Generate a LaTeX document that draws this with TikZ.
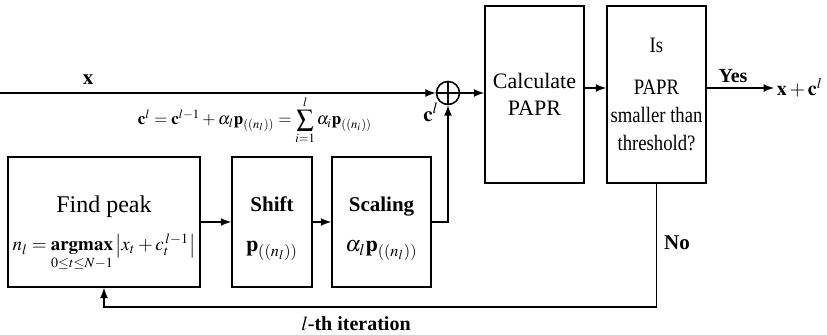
\documentclass[tikz,border=0pt]{standalone}
\usepackage{amsmath}
\usepackage{mathptmx}
\usepackage{fontspec}
\setmainfont{Liberation Serif}
\newfontfamily\narrowfont[FakeStretch=0.85]{Liberation Serif}
\usepackage{tikz}
\usetikzlibrary{arrows,positioning}

\begin{document}
\begin{tikzpicture}
			[x=0.5pt, y=-0.5pt, >=latex, thick,
			 block/.style={rectangle, draw, align=center, inner sep=0pt, font=\fontsize{11}{14}\selectfont},
			 adder/.style={circle, draw, minimum size=11.5pt, inner sep=0pt},
			 lbl/.style={font=\fontsize{10.5}{13}\selectfont\bfseries},]
			\useasboundingbox (0,0) rectangle (827,334);
			% blocks
			\node[block, minimum width=96pt, minimum height=65pt] (find) at (104,222)
				{\fontsize{12}{14}\selectfont\rule{0pt}{20pt}Find peak\\[5pt]
				 \fontsize{9.5}{12}\selectfont\boldmath $n_l = \mathop{\mathbf{argmax}}\limits_{0\le t\le N-1} \left| x_t + c_t^{\,l-1} \right|$};
			\node[block, minimum width=40pt, minimum height=65pt] (shift) at (272,222)
				{\fontsize{10.5}{14}\selectfont\rule{0pt}{14pt}\textbf{Shift}\\[6pt] $\mathbf{p}_{((n_l))}$};
			\node[block, minimum width=49.5pt, minimum height=65pt] (scale) at (381.5,222)
				{\fontsize{10.5}{14}\selectfont\rule{0pt}{14pt}\textbf{Scaling}\\[6pt] $\alpha_l\mathbf{p}_{((n_l))}$};
			\node[block, minimum width=49.5pt, minimum height=88.5pt] (calc) at (534.5,94.5)
				{Calculate\\[-0.5pt] PAPR};
			\node[block, minimum width=49.5pt, minimum height=88.5pt, font=\narrowfont\fontsize{11}{14}\selectfont] (thresh) at (656.5,94.5)
				{Is\\[7pt] PAPR\\ smaller than\\ threshold?};
			\node[adder] (sum) at (448,93) {};
			\draw (sum.north) -- (sum.south) (sum.west) -- (sum.east);
			\node[lbl, anchor=west, inner sep=1pt, font=\fontsize{10}{12}\selectfont\boldmath] (out) at (774,88) {$\mathbf{x} + \mathbf{c}^l$};
			\coordinate (xin) at (0,93);
			\coordinate (back) at (0,307);

			% labels
			\node[lbl] (xlbl) at (88,80) {$\mathbf{x}$};
			\node[lbl] (cl) at (431,112) {$\mathbf{c}^l$};
			\node[lbl, font=\fontsize{8.5}{10}\selectfont\boldmath] (upd) at (255,120) {$\mathbf{c}^l = \mathbf{c}^{l-1} + \alpha_l\mathbf{p}_{((n_l))}
				= \displaystyle\sum_{i=1}^{l}\alpha_i\mathbf{p}_{((n_i))}$};
			\node[lbl, font=\fontsize{10}{12}\selectfont\bfseries] (yes) at (733,76) {Yes};
			\node[lbl] (no) at (677,243) {No};
			\node[lbl, font=\fontsize{10}{12}\selectfont\bfseries] (iter) at (356,324) {$l$-th iteration};

			% connectors
			\draw[->] (xin) -- (sum.west);
			\draw[->] (sum.east) -- (sum.east -| calc.west);
			\draw[->] ([yshift=3.25pt]calc.east) -- ([yshift=3.25pt]thresh.west);
			\draw[->] ([yshift=3.25pt]thresh.east) -- (out.west);
			\draw[->] (find.east) -- (shift.west);
			\draw[->] (shift.east) -- (scale.west);
			\draw[->] (scale.east) -| (sum.south);
			\draw[->] (thresh.south) |- (back -| find.south) -- (find.south);
			\end{tikzpicture}
\end{document}
